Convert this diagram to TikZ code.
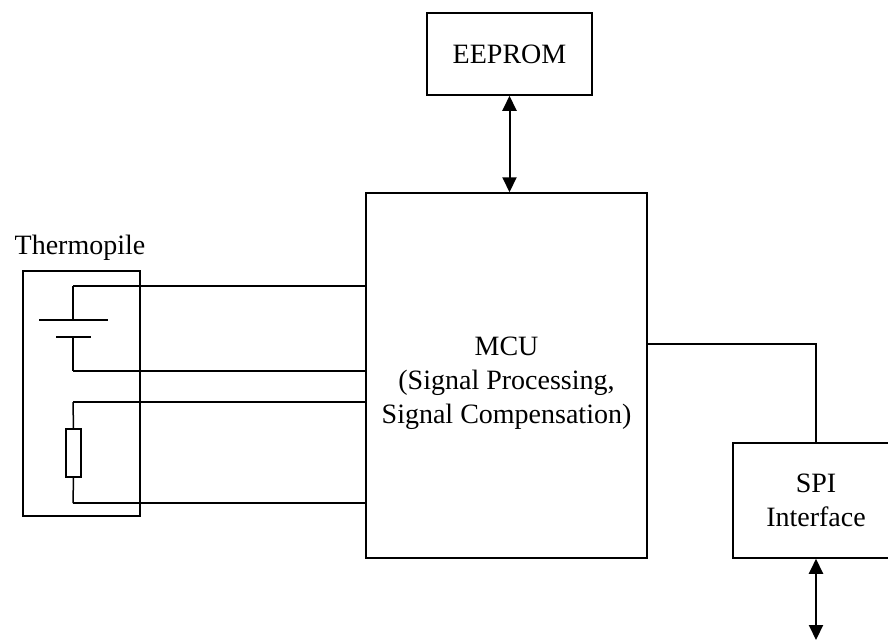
\documentclass[tikz,border=0pt]{standalone}
\usepackage{fontspec}
\setmainfont{Liberation Serif}
\usetikzlibrary{arrows.meta}

\begin{document}
\begin{tikzpicture}[x=1pt,y=-1pt,line width=1.5pt,
	every node/.style={draw,rectangle,inner sep=0pt,align=center,font=\fontsize{28}{34}\selectfont},
	bus/.style={line width=2pt,{Triangle[width=14pt,length=15pt]}-{Triangle[width=14pt,length=15pt]}}]
	\useasboundingbox (0,0) rectangle (888,641);

	\node (eeprom) at (509.5,54) [minimum width=165,minimum height=82] {EEPROM};
	\node (mcu) at (506.5,375.5) [minimum width=281,minimum height=365] {};
	\node (mcutext) at (506.5,383) [draw=none] {MCU\\(Signal Processing,\\Signal Compensation)};
	\node (spi) at (816,500.5) [minimum width=166,minimum height=115] {SPI\\Interface};
	\node (thermo) at (81.5,393.5) [minimum width=117,minimum height=245] {};
	\node (tlabel) at (80,248) [draw=none] {Thermopile};
	\node (res) at (73.5,453) [minimum width=15,minimum height=48] {};

	\coordinate (batp) at (73,320);
	\coordinate (batn) at (73,337);
	\coordinate (w1) at (73,286);
	\coordinate (w2) at (73,371);
	\coordinate (w3) at (73,402);
	\coordinate (w4) at (73,503);
	\coordinate (spiin) at (816,344);
	\coordinate (spiout) at (816,640);

	\draw ([xshift=-34]batp) -- ([xshift=35]batp);
	\draw ([xshift=-17]batn) -- ([xshift=18]batn);

	\foreach \from/\to in {w1/batp,batn/w2,w3/res.north,res.south/w4}
		\draw (\from) -- (\to);
	\foreach \w in {w1,w2,w3,w4}
		\draw (\w) -- (mcu.west |- \w);

	\draw (mcu.east |- spiin) -- (spiin) -- (spi.north);
	\draw[bus] (eeprom.south) -- (mcu.north -| eeprom.south);
	\draw[bus] (spi.south) -- (spiout);

\end{tikzpicture}
\end{document}
